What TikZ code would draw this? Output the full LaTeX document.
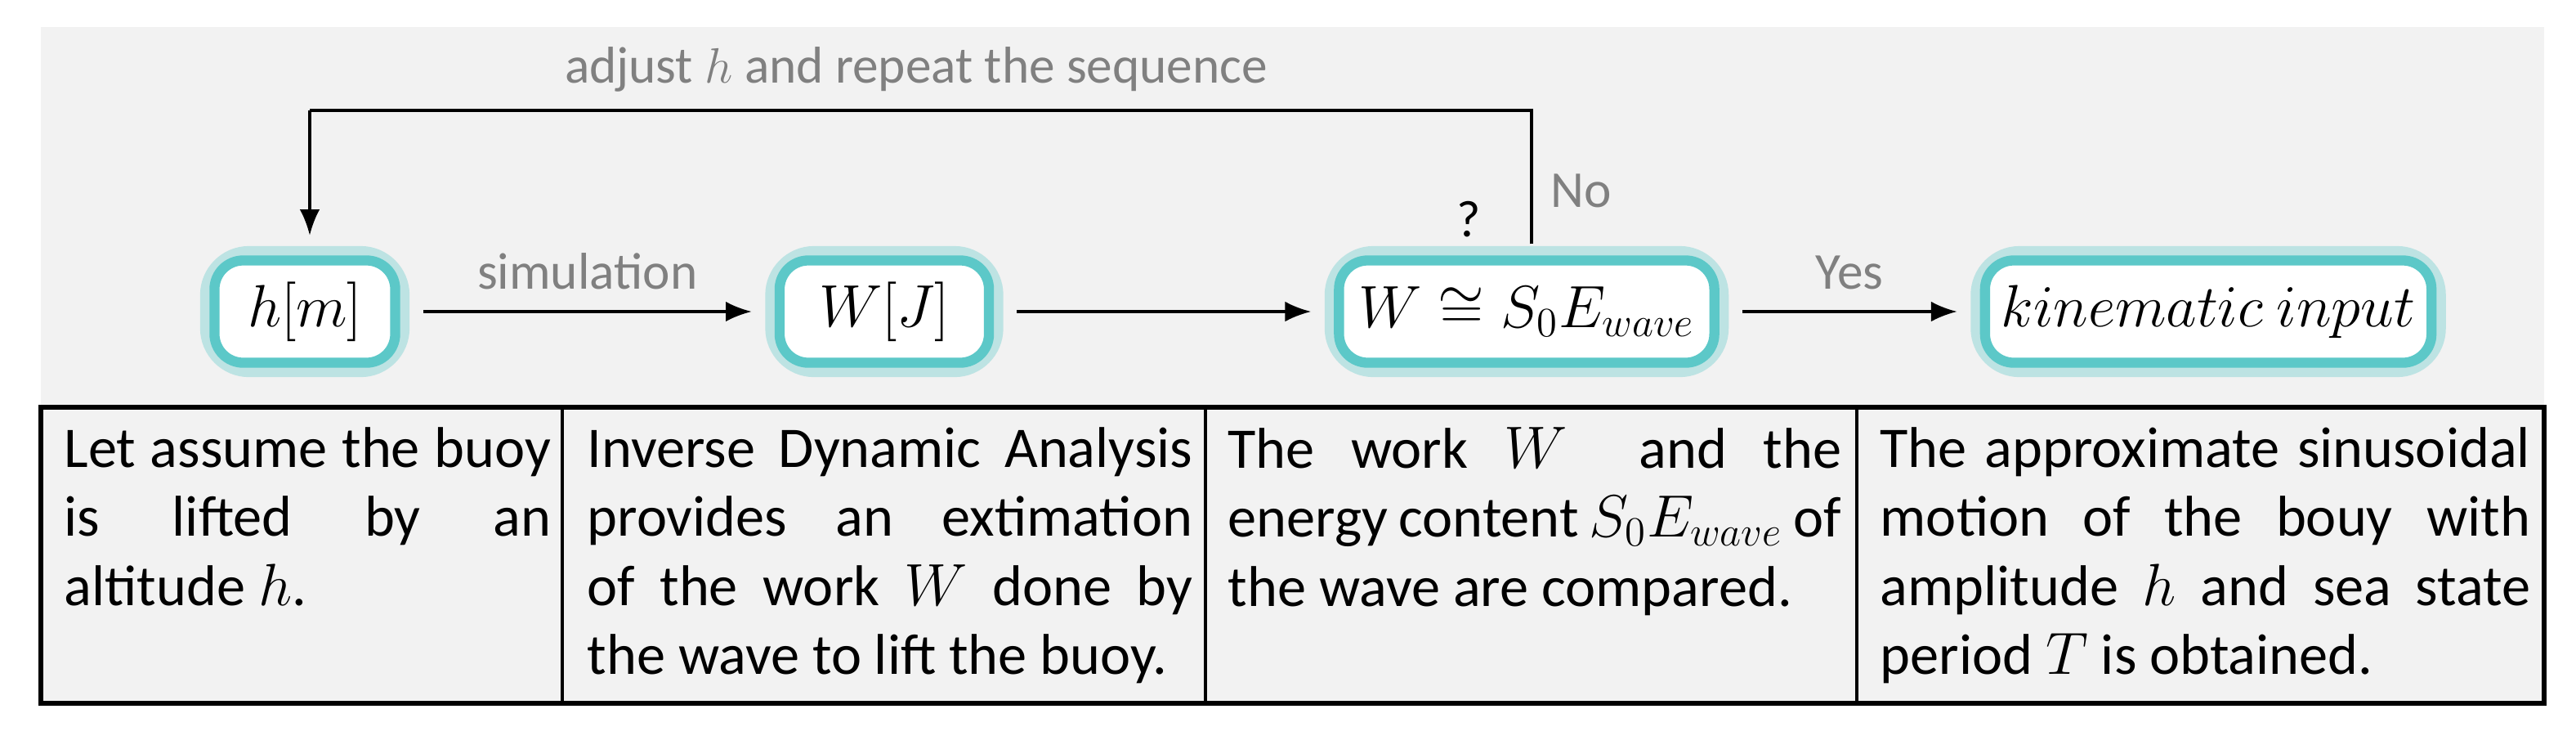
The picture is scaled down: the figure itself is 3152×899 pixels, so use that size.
\documentclass[tikz,border=0pt]{standalone}
\usepackage{fontspec}
\setmainfont{Carlito}
\usetikzlibrary{arrows.meta}
\definecolor{panel}{HTML}{F2F2F2}
\definecolor{glow}{HTML}{5CC8C8}
\definecolor{lbl}{HTML}{808080}
\tikzset{
  box/.style={draw=glow, line width=3.5pt, rounded corners=10pt, fill=white, minimum height=1.25cm, inner sep=0pt, font=\fontsize{21.5}{25}\selectfont},
  halo/.style={draw=glow, line width=10pt, rounded corners=12pt, opacity=0.35, minimum height=1.25cm, inner sep=0pt},
  conn/.style={-{Latex[length=9pt,width=7pt]}, line width=0.9pt},
  lab/.style={text=lbl, font=\fontsize{18}{22}\selectfont},
  cell/.style={anchor=north west, align=justify, inner sep=0pt, font=\fontsize{20}{24}\selectfont},
}
\begin{document}
\begin{tikzpicture}[x=0.01cm,y=-0.01cm]
\useasboundingbox (0,0) rectangle (3152,899);
\fill[panel] (50,33) rectangle (3113,860);
% halos
\node[halo, minimum width=2.21cm] at (373,381) {};
\node[halo, minimum width=2.56cm] at (1082,381) {};
\node[halo, minimum width=4.59cm] at (1868,381) {};
\node[halo, minimum width=5.46cm] at (2702,381) {};
% boxes
\node[box, minimum width=2.21cm] (h) at (373,381) {$h[m]$};
\node[box, minimum width=2.56cm] (w) at (1082,381) {$W[J]$};
\node[box, minimum width=4.59cm] (c) at (1868,381) {$W\cong S_0E_{wave}$};
\node[box, minimum width=5.46cm] (k) at (2702,381) {$kinematic\ input$};
% connectors
\draw[conn] ([xshift=8pt]h.east) -- node[lab, above=4pt] (sim) {simulation} ([xshift=-8pt]w.west);
\draw[conn] ([xshift=8pt]w.east) -- ([xshift=-8pt]c.west);
\draw[conn] ([xshift=8pt]c.east) -- node[lab, above=4pt] (yes) {Yes} ([xshift=-8pt]k.west);
\coordinate (up) at (1874,135);
\coordinate (lf) at (379,135);
\draw[line width=0.9pt] ([yshift=4pt]c.north -| up) -- (up) -- (lf);
\draw[conn] (lf) -- ([yshift=7pt]h.north -| lf);
\node[lab, anchor=south] (adj) at (1121,125) {adjust $h$ and repeat the sequence};
\node[lab, anchor=west] (no) at (1885,233) {No};
\node[font=\fontsize{18}{22}\selectfont] (q) at (1797,268) {?};
% table
\draw[line width=1.6pt] (50,498) rectangle (3113,860);
\draw[line width=1.2pt] (688,498) -- (688,860) (1475,498) -- (1475,860) (2272,498) -- (2272,860);
\node[cell, text width=5.95cm] (t1) at (78,522) {Let assume the buoy\linebreak is lifted by an\linebreak altitude $h$.};
\node[cell, text width=7.4cm] (t2) at (718,522) {Inverse Dynamic Analysis\linebreak provides an extimation\linebreak of the work $W$ done by\linebreak the wave to lift the buoy.};
\node[cell, text width=7.5cm] (t3) at (1502,522) {The work $W$\ \ and the\linebreak energy content $S_0E_{wave}$ of\linebreak the wave are compared.};
\node[cell, text width=7.95cm] (t4) at (2300,522) {The approximate sinusoidal\linebreak motion of the bouy with\linebreak amplitude $h$ and sea state\linebreak period $T$ is obtained.};
\end{tikzpicture}
\end{document}
